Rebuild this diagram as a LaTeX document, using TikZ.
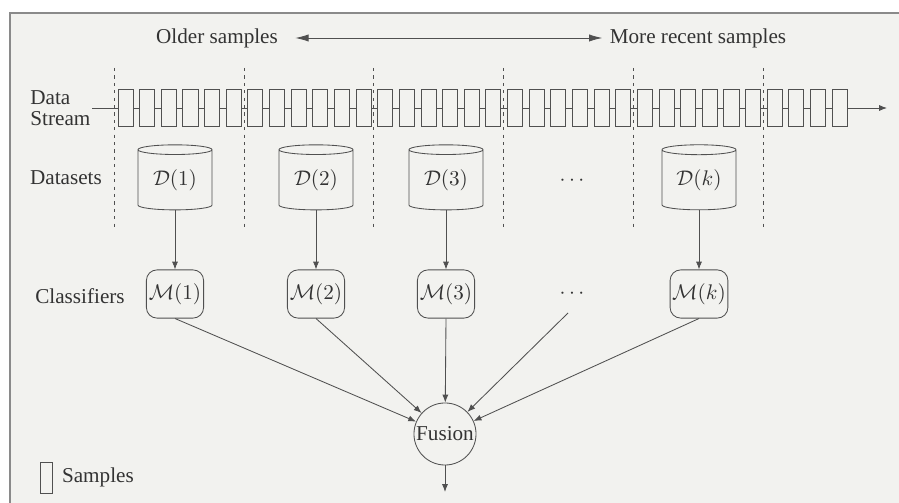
\documentclass[tikz,border=0pt]{standalone}
\usepackage{fontspec}
\setmainfont{Liberation Serif}
\usepackage{tikz}
\usetikzlibrary{positioning,shapes.geometric,arrows.meta}
\definecolor{FigLine}{HTML}{505050}
\definecolor{FigText}{HTML}{333333}
\definecolor{FigPaper}{HTML}{F2F2EF}
\definecolor{FigFrame}{HTML}{8A8A8A}

\begin{document}
\begin{tikzpicture}[x=0.0166cm, y=-0.0166cm, every node/.style={font=\normalsize, text=FigText, align=center},
  sample/.style={draw=FigLine, minimum width=0.25cm, minimum height=0.61cm, inner sep=0pt},
  dataset/.style={draw=FigLine, shape=cylinder, shape border rotate=90, aspect=0.22, minimum width=1.23cm, minimum height=1.08cm, inner sep=0pt},
  classifier/.style={draw=FigLine, rounded corners=5pt, minimum width=0.95cm, minimum height=0.8cm, inner sep=1pt},
  flow/.style={-{Latex[length=1.3mm,width=1mm]}, FigLine},
  split/.style={FigLine, dash pattern=on 1.5pt off 2pt, line width=0.5pt}]
  \useasboundingbox (0,0) rectangle (899,503);
  \fill[FigPaper] (10,13) rectangle (899,503);
  \draw[FigFrame, line width=0.8pt] (10,503) -- (10,13) -- (899,13);

  % time axis
  \node (older) at (217,38) {Older samples};
  \node (recent) at (698,38) {More recent samples};
  \draw[{Latex[length=2.2mm,width=1.2mm]}-{Latex[length=2.2mm,width=1.2mm]}, FigLine] (older.east) ++(10,0) coordinate (ol) -- (ol -| recent.west) coordinate (rc);

  % stream of samples
  \node[anchor=west, align=left, inner sep=0pt] (stream) at (30,108) {Data\\[-2pt]Stream};
  \foreach \i in {0,...,33}
    \node[sample] (s\i) at ({125.5+21.64*\i},108) {};
  \coordinate (in) at (92,108);
  \coordinate (out) at (887,108);
  \draw[FigLine] (in) -- (s0.west);
  \foreach \i [count=\j from 1] in {0,...,32}
    \draw[FigLine] (s\i.east) -- (s\j.west);
  \draw[flow] (s33.east) -- (out);

  % windows
  \foreach \k in {0,6,12,18,24,30}
    \draw[split] ([xshift=-3.3*0.0166cm]s\k.west |- 0,68) -- ([xshift=-3.3*0.0166cm]s\k.west |- 0,227);

  % datasets and classifiers
  \node (datasets) at (66,178) {Datasets};
  \node (classifiers) at (80,296) {Classifiers};
  \node[dataset] (d1) at (175,180) {$\mathcal{D}(1)$};
  \node[dataset] (d2) at (316,180) {$\mathcal{D}(2)$};
  \node[dataset] (d3) at (446,180) {$\mathcal{D}(3)$};
  \node (ddots) at (572,181) {$\cdots$};
  \node[dataset] (dk) at (699,180) {$\mathcal{D}(k)$};
  \node[classifier] (m1) at (175,294) {$\mathcal{M}(1)$};
  \node[classifier] (m2) at (316,294) {$\mathcal{M}(2)$};
  \node[classifier] (m3) at (446,294) {$\mathcal{M}(3)$};
  \node (mdots) at (572,294) {$\cdots$};
  \node[classifier] (mk) at (699,294) {$\mathcal{M}(k)$};
  \foreach \n in {1,2,3,k}
    \draw[flow] (d\n) -- (m\n);

  % fusion
  \node[draw=FigLine, circle, minimum size=1.03cm, inner sep=0pt] (fus) at (445,434) {Fusion};
  \coordinate (md) at (568,313);
  \coordinate (res) at (445,492);
  \foreach \n in {1,2,3,k}
    \draw[flow] (m\n.south) -- (fus);
  \draw[flow] (md) -- (fus);
  \draw[flow] (fus) -- (res);

  % legend
  \node[draw=FigLine, minimum width=0.2cm, minimum height=0.52cm, inner sep=0pt] (key) at (46,478) {};
  \node[right=1pt of key.south east, anchor=south west] (keytext) {Samples};
\end{tikzpicture}
\end{document}
